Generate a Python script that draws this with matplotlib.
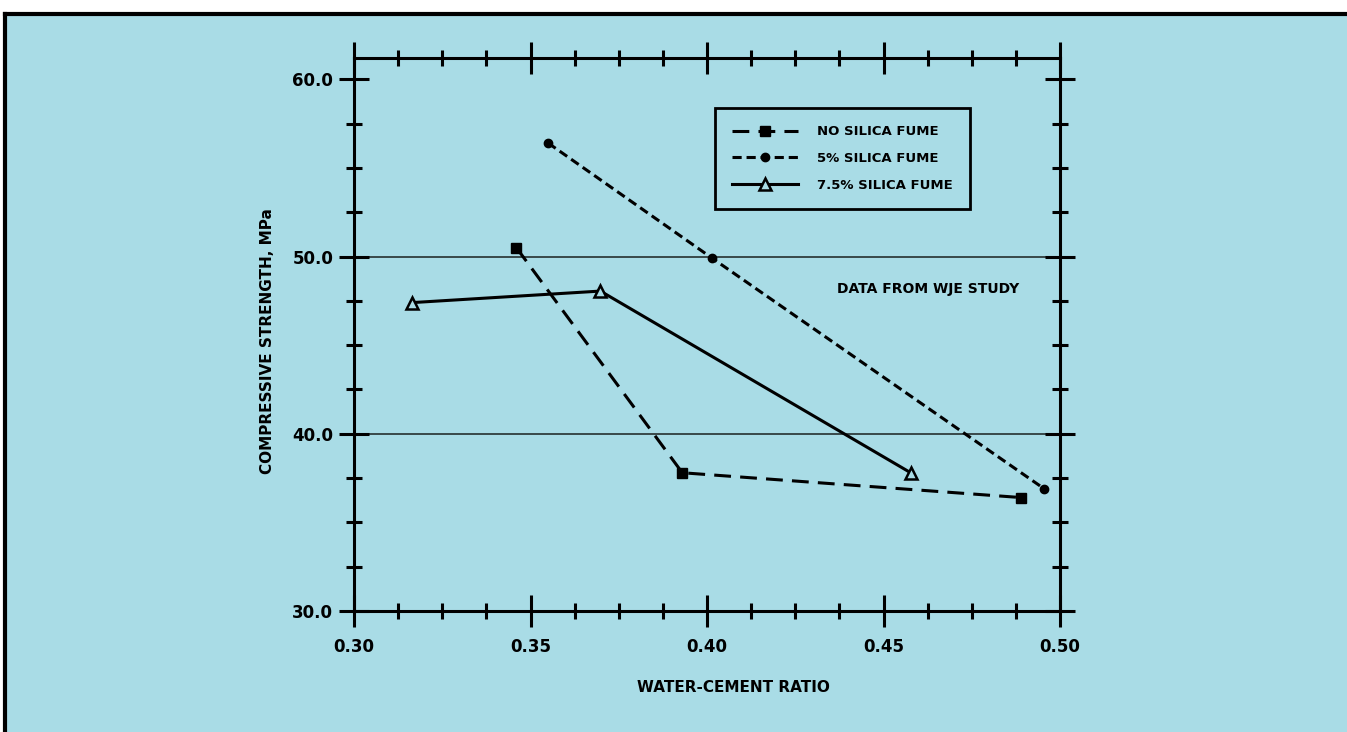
import matplotlib
matplotlib.use("Agg")
import matplotlib.pyplot as plt # Plotting
import numpy as np # Arrays
from matplotlib.patches import Rectangle
from matplotlib.lines import Line2D
from matplotlib.ticker import MultipleLocator, FormatStrFormatter

# Data
no_sf_x = [0.346, 0.393, 0.489]
no_sf_y = [50.5, 37.8, 36.4]
sf5_x = [0.355, 0.4015, 0.4955]
sf5_y = [56.4, 49.9, 36.9]
sf75_x = [0.3165, 0.3698, 0.4577]
sf75_y = [47.4, 48.05, 37.8]
labels = ['NO SILICA FUME', '5% SILICA FUME', '7.5% SILICA FUME']
note = 'DATA FROM WJE STUDY'

bg = '#a9dce6'
plt.rcParams['font.family'] = ['DejaVu Sans']
plt.rcParams['font.weight'] = 'bold'

fig = plt.figure(figsize=(13.47, 7.32), dpi=100)
fig.patch.set_facecolor('white')
# blue page with black frame on top and left
fig.add_artist(Rectangle((5/1347, 0), 1, (732-14)/732, transform=fig.transFigure,
                         facecolor=bg, edgecolor='none', zorder=-10))
fig.add_artist(Line2D([5/1347, 1], [(732-14)/732]*2, transform=fig.transFigure, color='black', lw=3))
fig.add_artist(Line2D([5/1347]*2, [0, (732-14)/732], transform=fig.transFigure, color='black', lw=3))

ax = fig.add_axes([354/1347, 1-611/732, 706/1347, 553/732])
ax.set_facecolor('none')

ax.plot(no_sf_x, no_sf_y, color='black', lw=2.2, dashes=(5.5, 3), marker='s', ms=7, label=labels[0])
ax.plot(sf5_x, sf5_y, color='black', lw=2.2, dashes=(3, 1.6), marker='o', ms=6, label=labels[1])
ax.plot(sf75_x, sf75_y, color='black', lw=2.2, marker='^', ms=8, mfc=bg, mec='black', mew=1.8, label=labels[2])

# horizontal reference lines
ax.axhline(40, color='#26302f', lw=1.2, zorder=0)
ax.axhline(50, color='#26302f', lw=1.2, zorder=0)

ax.set_xlim(0.30, 0.50)
ax.set_ylim(30, 61.2)
ax.xaxis.set_major_locator(MultipleLocator(0.05))
ax.xaxis.set_minor_locator(MultipleLocator(0.0125))
ax.yaxis.set_major_locator(MultipleLocator(10))
ax.yaxis.set_minor_locator(MultipleLocator(2.5))
ax.xaxis.set_major_formatter(FormatStrFormatter('%.2f'))
ax.yaxis.set_major_formatter(FormatStrFormatter('%.1f'))

for s in ax.spines.values():
    s.set_linewidth(2.2)
ax.tick_params(axis='x', which='major', direction='inout', length=23, width=2.2, top=True, pad=8, labelsize=12)
ax.tick_params(axis='x', which='minor', direction='inout', length=11.5, width=2.2, top=True)
ax.tick_params(axis='y', which='major', direction='inout', length=21, width=2.2, right=True, pad=4.5, labelsize=12)
ax.tick_params(axis='y', which='minor', direction='inout', length=11.5, width=2.2, right=True)

ax.set_xlabel('WATER-CEMENT RATIO', fontsize=11, fontweight='bold')
ax.set_ylabel('COMPRESSIVE STRENGTH, MPa', fontsize=11, fontweight='bold')
ax.xaxis.set_label_coords(0.537, -0.139)
ax.xaxis.label.set_va('center')
ax.yaxis.set_label_coords(-0.122, 0.488)
ax.yaxis.label.set_va('center')

ax.text(0.4367, 48.16, note, fontsize=10, fontweight='bold', va='center', ha='left')

leg = ax.legend(loc='upper left', bbox_to_anchor=(0.511, 0.9096), borderaxespad=0,
                fancybox=False, edgecolor='black', facecolor='none', framealpha=1,
                prop={'size': 9.5, 'weight': 'bold'}, handlelength=5.0, borderpad=1.3,
                labelspacing=1.05, handletextpad=1.45)
leg.get_frame().set_linewidth(2)

fig.savefig('out.png', dpi=100)
plt.close()
